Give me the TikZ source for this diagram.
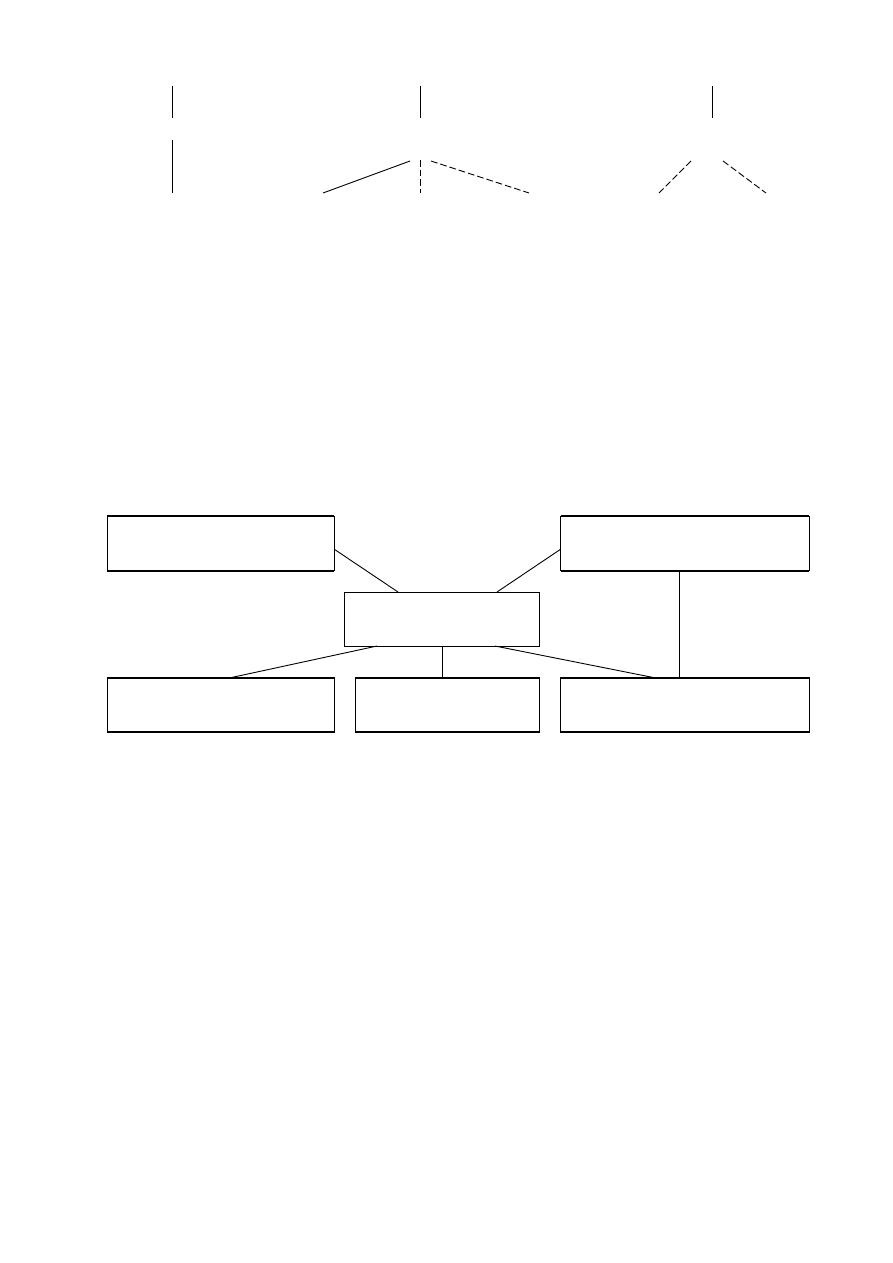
\documentclass[tikz,border=0pt]{standalone}
\usetikzlibrary{positioning,calc}
\begin{document}
\begin{tikzpicture}[x=0.023516cm, y=-0.023516cm, node distance={0.5cm}, line width=0.6pt,
    box/.style = {draw, rectangle, inner sep=0pt, outer sep=0pt, minimum height=1.28cm},
    rim/.style = {line width=1.4pt},
    dsh/.style = {dash pattern=on 4.5pt off 2pt}]
    \useasboundingbox (0,0) rectangle (893,1263);

    % upper fragments
    \draw (172,86) -- (172,118);
    \draw (172,140) -- (172,193);

    \coordinate (m) at (420.5,160);
    \draw (420.5,86) -- (420.5,118);
    \draw (323,193) -- (410,161);
    \draw[dsh] (m) -- (420.5,193);
    \draw[dsh] (431,161) -- (529,193);

    \draw (712.5,86) -- (712.5,118);
    \draw[dsh] (691,161) -- (659,193);
    \draw[dsh] (723,161) -- (766,193);

    % boxes
    \node[box, minimum width=5.345cm] (tl) at (220.7,543.5) {};
    \node[box, minimum width=5.345cm] (bl) [below=2.52cm of tl] {};
    \node[box, minimum width=4.318cm] (bm) [right=of bl] {};
    \node[box, minimum width=5.844cm] (br) [right=of bm] {};
    \node[box, minimum width=5.844cm] (tr) [above=2.52cm of br] {};
    \node[box, minimum width=4.576cm, minimum height=1.27cm] (c) at (442,619) {};

    \foreach \n in {tl,tr,bl,bm,br}
        \draw[rim] (\n.north west) -- (\n.north east) (\n.south west) -- (\n.south east);

    \draw ($(tl.east)+(0,5.8)$) -- ($(c.north)+(-44,0)$);
    \draw ($(tr.west)+(0,5.8)$) -- ($(c.north)+(55,0)$);
    \draw ($(c.south)+(-65,0)$) -- ($(bl.north)+(9,0)$);
    \draw (c.south) -- (c.south |- bm.north);
    \draw ($(c.south)+(53,0)$) -- ($(br.north)+(-29.5,0)$);
    \draw ($(tr.south)+(-5,0)$) -- ($(br.north)+(-5,0)$);

\end{tikzpicture}
\end{document}
